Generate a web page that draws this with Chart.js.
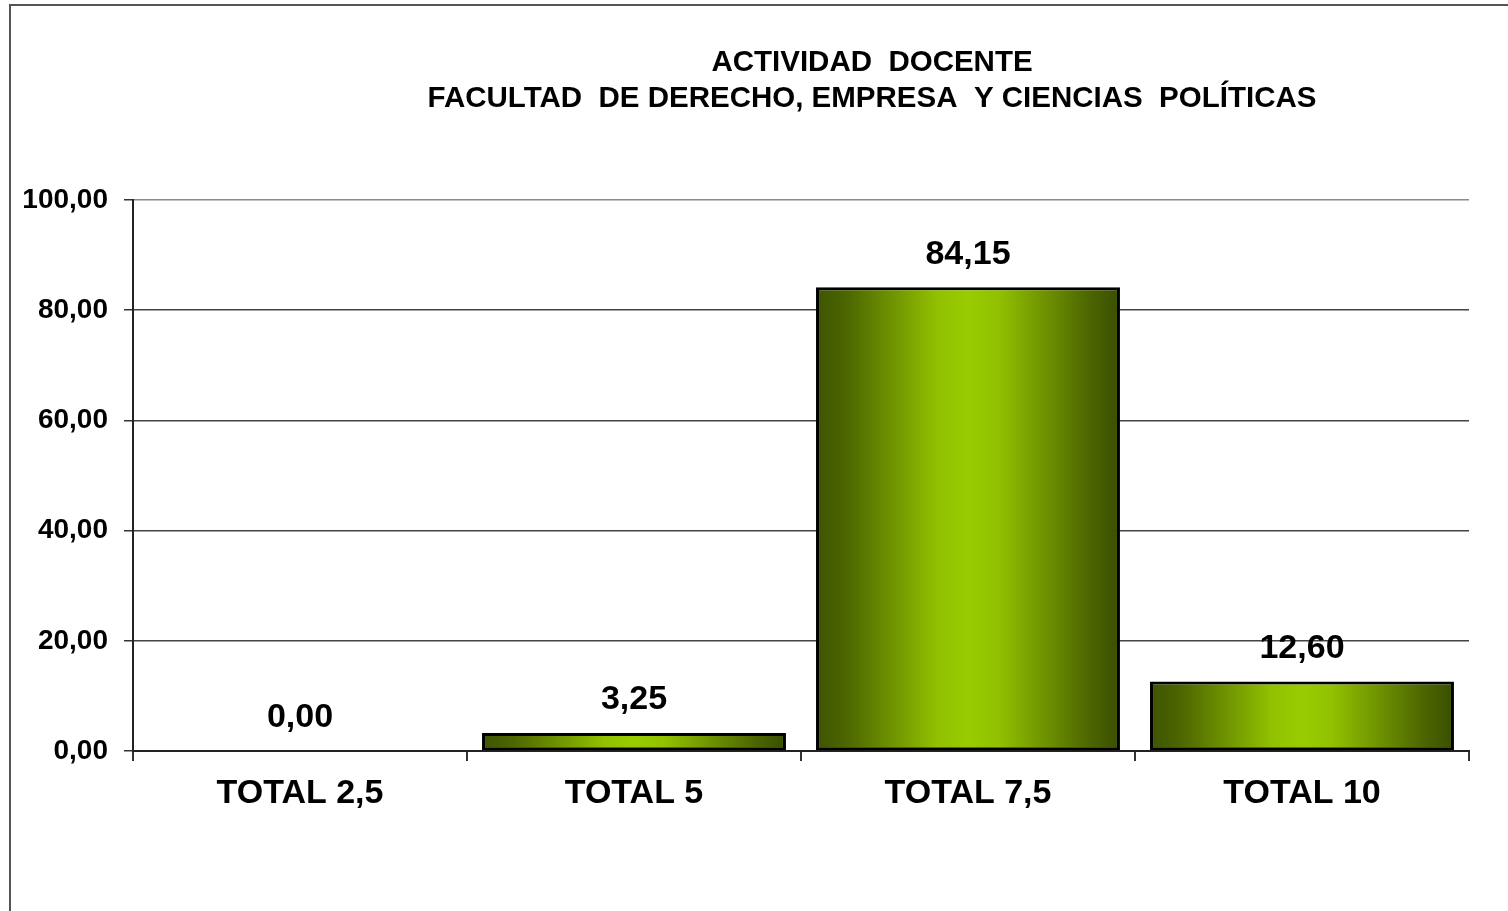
<!DOCTYPE html>
<html>
<head>
<meta charset="utf-8">
<script src="https://cdn.jsdelivr.net/npm/chart.js@4/dist/chart.umd.min.js"></script>
<style>
	html, body { margin: 0; padding: 0; background: #fff; overflow: hidden; }
	#wrap { position: relative; width: 1508px; height: 911px; }
	#frame { position: absolute; left: 9px; top: 4px; width: 1600px; height: 1000px; border: 2px solid #555; }
	#chart { position: absolute; left: 0; top: 0; }
</style>
</head>
<body>
<div id="wrap">
	<div id="frame"></div>
	<canvas id="chart" width="1508" height="911"></canvas>
</div>
<script>
// datos del grafico
var titleLines = ['ACTIVIDAD  DOCENTE', 'FACULTAD  DE DERECHO, EMPRESA  Y CIENCIAS  POLÍTICAS'];
var categories = ['TOTAL 2,5', 'TOTAL 5', 'TOTAL 7,5', 'TOTAL 10'];
var values = [0.00, 3.25, 84.15, 12.60];
var yTicks = [0, 20, 40, 60, 80, 100];

var FONT = "'Liberation Sans', Arial, sans-serif";
var BAR_PCT = 0.91;

function fmt(v) {
	return Number(v).toFixed(2).replace('.', ',');
}

// degradado horizontal de cada barra
function barGradient(ctx) {
	var chart = ctx.chart;
	var xs = chart.scales.x;
	if (!xs || ctx.dataIndex === undefined) return '#99cc00';
	var cx = xs.getPixelForValue(ctx.dataIndex);
	var w = (xs.width / categories.length) * BAR_PCT;
	if (!isFinite(cx) || !isFinite(w) || w <= 0) return '#99cc00';
	var g = chart.ctx.createLinearGradient(cx - w / 2, 0, cx + w / 2, 0);
	g.addColorStop(0, '#3e5400');
	g.addColorStop(0.1, '#4c6600');
	g.addColorStop(0.25, '#6f9300');
	g.addColorStop(0.4, '#91c100');
	g.addColorStop(0.5, '#99cc00');
	g.addColorStop(0.6, '#91c100');
	g.addColorStop(0.75, '#6f9300');
	g.addColorStop(0.9, '#4c6600');
	g.addColorStop(1, '#3a4e00');
	return g;
}

var titlePlugin = {
	id: 'tituloDoble',
	afterDraw: function(chart) {
		var c = chart.ctx;
		c.save();
		c.fillStyle = '#000';
		c.font = 'bold 29.5px ' + FONT;
		c.textAlign = 'center';
		c.textBaseline = 'middle';
		titleLines.forEach(function(t, i) {
			c.fillText(t, 872, 63 + i * 36);
		});
		c.restore();
	}
};

var labelPlugin = {
	id: 'etiquetas',
	afterDatasetsDraw: function(chart) {
		var c = chart.ctx;
		var meta = chart.getDatasetMeta(0);
		c.save();
		c.fillStyle = '#000';
		c.font = 'bold 34px ' + FONT;
		c.textAlign = 'center';
		c.textBaseline = 'bottom';
		meta.data.forEach(function(el, i) {
			c.fillText(fmt(values[i]), el.x, el.y - 16);
		});
		c.restore();
	}
};

var ctx = document.getElementById('chart').getContext('2d');
var chart = new Chart(ctx, {
	type: 'bar',
	data: {
		labels: categories,
		datasets: [{
			data: values,
			backgroundColor: barGradient,
			borderColor: '#000',
			borderWidth: 3,
			borderSkipped: false,
			barPercentage: BAR_PCT,
			categoryPercentage: 1
		}]
	},
	options: {
		responsive: false,
		devicePixelRatio: 1,
		animation: false,
		layout: { padding: { left: 0, top: 200, right: 39, bottom: 0 } },
		plugins: {
			legend: { display: false },
			title: { display: false },
			tooltip: { enabled: false }
		},
		scales: {
			x: {
				offset: true,
				grid: {
					offset: true,
					drawOnChartArea: true,
					color: function(c) { return c.index === categories.length ? '#8a8a8a' : 'rgba(0,0,0,0)'; },
					lineWidth: 2,
					tickColor: '#333',
					tickLength: 10
				},
				border: { color: '#222', width: 2 },
				ticks: {
					color: '#000',
					font: { family: FONT, size: 34, weight: 'bold' },
					padding: 12,
					maxRotation: 0
				},
				afterFit: function(axis) { axis.height = 160; }
			},
			y: {
				min: 0,
				max: 100,
				afterBuildTicks: function(axis) {
					axis.ticks = yTicks.map(function(v) { return { value: v }; });
				},
				grid: {
					color: function(c) { return c.tick && c.tick.value === 100 ? '#8a8a8a' : '#444'; },
					lineWidth: 1.5,
					tickColor: '#333',
					tickLength: 9
				},
				border: { color: '#222', width: 2 },
				ticks: {
					color: '#000',
					font: { family: FONT, size: 28, weight: 'bold' },
					padding: 16,
					callback: function(v) { return fmt(v); }
				},
				afterFit: function(axis) { axis.width = 133; }
			}
		}
	},
	plugins: [titlePlugin, labelPlugin]
});
</script>
</body>
</html>
